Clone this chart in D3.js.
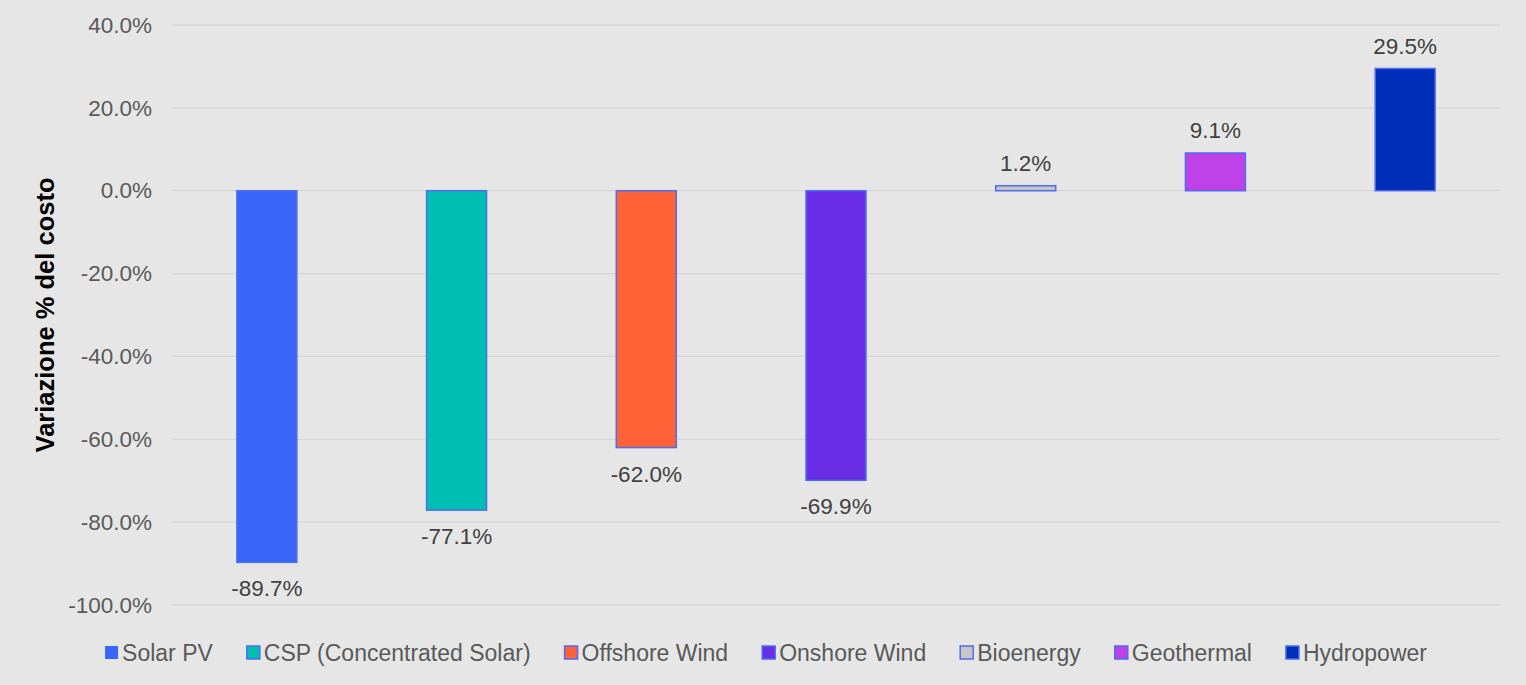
<!DOCTYPE html>
<html>
<head>
<meta charset="utf-8">
<script src="https://cdn.jsdelivr.net/npm/d3@7"></script>
<style>
  body { margin: 0; background: #e6e6e6; }
  svg { font-family: "Liberation Sans", Arial, sans-serif; }
</style>
</head>
<body>
<div id="chart"></div>
<script>
// data
const categories = ["Solar PV", "CSP (Concentrated Solar)", "Offshore Wind", "Onshore Wind", "Bioenergy", "Geothermal", "Hydropower"];
const values = [-89.7, -77.1, -62.0, -69.9, 1.2, 9.1, 29.5];
const colors = ["#3a66f8", "#00bfb2", "#ff6236", "#6a2de6", "#c6c6c6", "#be42e8", "#002eb8"];
const yTicks = [40, 20, 0, -20, -40, -60, -80, -100];

const width = 1526, height = 685;
const margin = {top: 25, right: 26, bottom: 80, left: 172};

const svg = d3.select("#chart").append("svg")
    .attr("width", width)
    .attr("height", height);

svg.append("rect").attr("width", width).attr("height", height).attr("fill", "#e6e6e6");

const x = d3.scaleBand()
    .domain(categories)
    .range([margin.left, width - margin.right])
    .paddingInner(0.684)
    .paddingOuter(0.342);

const y = d3.scaleLinear()
    .domain([-100, 40])
    .range([height - margin.bottom, margin.top]);

// grid
svg.append("g")
    .selectAll("line")
    .data(yTicks)
    .enter().append("line")
    .attr("x1", margin.left)
    .attr("x2", width - margin.right)
    .attr("y1", d => y(d))
    .attr("y2", d => y(d))
    .attr("stroke", "#d6d6d6")
    .attr("stroke-width", 1.3);

// y axis labels (plain hyphen, not unicode minus)
const yAxis = d3.axisLeft(y).tickValues(yTicks).tickSize(0).tickPadding(20)
    .tickFormat(d => d.toFixed(1) + "%");
svg.append("g")
    .attr("transform", `translate(${margin.left},0)`)
    .call(yAxis)
    .call(g => g.select(".domain").remove())
    .selectAll("text")
    .attr("font-size", 22.5)
    .attr("font-family", "Liberation Sans, Arial, sans-serif")
    .attr("fill", "#595959");

svg.append("text")
    .attr("transform", `translate(54,${y(-30)}) rotate(-90)`)
    .attr("text-anchor", "middle")
    .attr("font-size", 25.5)
    .attr("font-weight", "bold")
    .attr("fill", "#000")
    .text("Variazione % del costo");

// bars
svg.append("g")
    .selectAll("rect")
    .data(values)
    .enter().append("rect")
    .attr("x", (d, i) => x(categories[i]))
    .attr("width", x.bandwidth())
    .attr("y", d => y(Math.max(0, d)))
    .attr("height", d => Math.abs(y(d) - y(0)))
    .attr("fill", (d, i) => colors[i])
    .attr("stroke", "#4d6cf0")
    .attr("stroke-width", 1.5);

// value labels
svg.append("g")
    .selectAll("text")
    .data(values)
    .enter().append("text")
    .attr("x", (d, i) => x(categories[i]) + x.bandwidth() / 2)
    .attr("y", d => d < 0 ? y(d) + 34 : y(d) - 15)
    .attr("text-anchor", "middle")
    .attr("font-size", 22.5)
    .attr("fill", "#404040")
    .text(d => d.toFixed(1) + "%");

// legend
const legend = svg.append("g").attr("transform", `translate(0,${653})`);
const items = legend.selectAll("g")
    .data(categories)
    .enter().append("g");
items.append("rect")
    .attr("width", 13).attr("height", 13)
    .attr("y", -7)
    .attr("fill", (d, i) => colors[i])
    .attr("stroke", (d, i) => i === 0 ? "none" : "#4d6cf0")
    .attr("stroke-width", 1.5);
items.append("text")
    .attr("x", 17)
    .attr("dy", "0.35em")
    .attr("font-size", 23)
    .attr("fill", "#595959")
    .text(d => d);

let widths = [];
items.each(function() {
    widths.push(17 + d3.select(this).select("text").node().getComputedTextLength());
});
const gap = 34;
const total = d3.sum(widths) + gap * (widths.length - 1);
let cx = 766 - total / 2;
items.each(function(d, i) {
    d3.select(this).attr("transform", `translate(${cx},0)`);
    cx += widths[i] + gap;
});
</script>
</body>
</html>
